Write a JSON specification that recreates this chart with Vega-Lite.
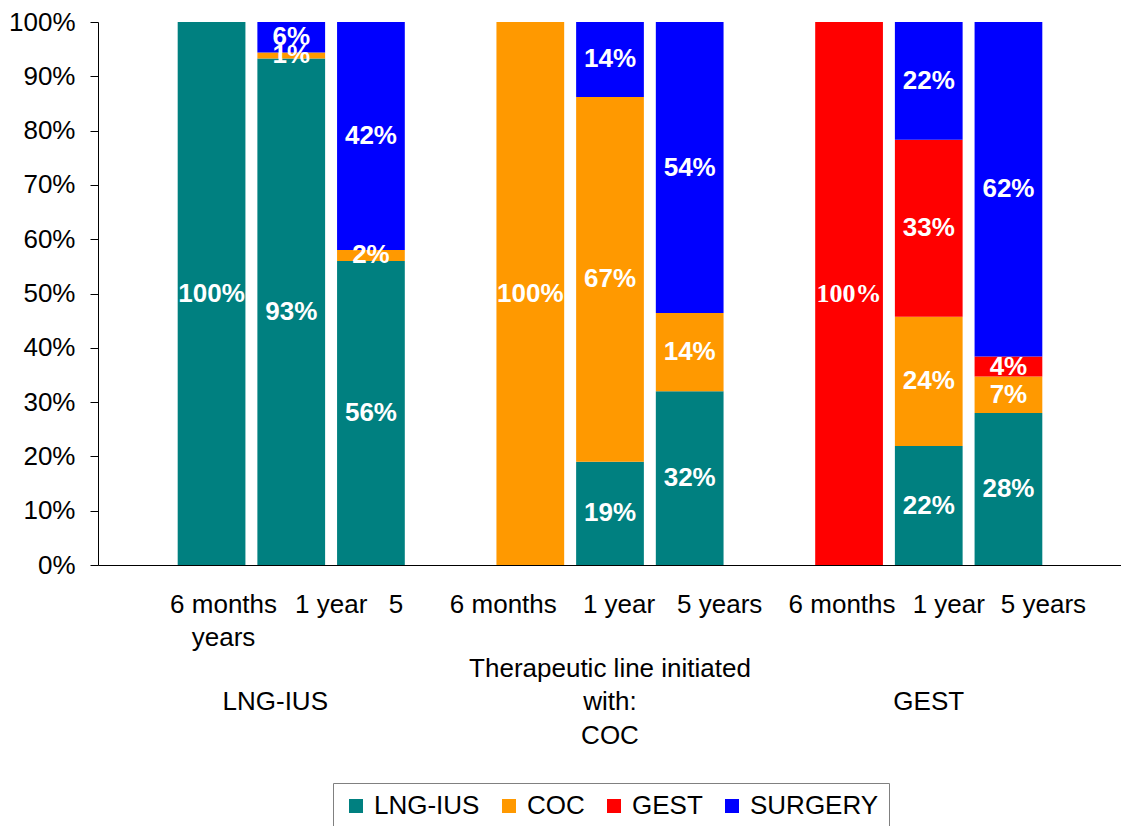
{
  "$schema": "https://vega.github.io/schema/vega-lite/v6.json",
  "width": 1024,
  "height": 543,
  "padding": {"left": 8, "top": 9, "right": 0, "bottom": 0},
  "background": "white",
  "config": {
    "font": "Liberation Sans",
    "view": {"stroke": null}
  },
  "data": {
    "values": [
      {"bar": "LNG-IUS|6 months", "group": "LNG-IUS", "period": "6 months", "method": "LNG-IUS", "ord": 1, "value": 1.0},
      {"bar": "LNG-IUS|1 year", "group": "LNG-IUS", "period": "1 year", "method": "LNG-IUS", "ord": 1, "value": 0.933},
      {"bar": "LNG-IUS|1 year", "group": "LNG-IUS", "period": "1 year", "method": "COC", "ord": 2, "value": 0.011},
      {"bar": "LNG-IUS|1 year", "group": "LNG-IUS", "period": "1 year", "method": "SURGERY", "ord": 4, "value": 0.056},
      {"bar": "LNG-IUS|5 years", "group": "LNG-IUS", "period": "5 years", "method": "LNG-IUS", "ord": 1, "value": 0.56},
      {"bar": "LNG-IUS|5 years", "group": "LNG-IUS", "period": "5 years", "method": "COC", "ord": 2, "value": 0.02},
      {"bar": "LNG-IUS|5 years", "group": "LNG-IUS", "period": "5 years", "method": "SURGERY", "ord": 4, "value": 0.42},
      {"bar": "COC|6 months", "group": "COC", "period": "6 months", "method": "COC", "ord": 2, "value": 1.0},
      {"bar": "COC|1 year", "group": "COC", "period": "1 year", "method": "LNG-IUS", "ord": 1, "value": 0.19},
      {"bar": "COC|1 year", "group": "COC", "period": "1 year", "method": "COC", "ord": 2, "value": 0.672},
      {"bar": "COC|1 year", "group": "COC", "period": "1 year", "method": "SURGERY", "ord": 4, "value": 0.138},
      {"bar": "COC|5 years", "group": "COC", "period": "5 years", "method": "LNG-IUS", "ord": 1, "value": 0.32},
      {"bar": "COC|5 years", "group": "COC", "period": "5 years", "method": "COC", "ord": 2, "value": 0.144},
      {"bar": "COC|5 years", "group": "COC", "period": "5 years", "method": "SURGERY", "ord": 4, "value": 0.536},
      {"bar": "GEST|6 months", "group": "GEST", "period": "6 months", "method": "GEST", "ord": 3, "value": 1.0},
      {"bar": "GEST|1 year", "group": "GEST", "period": "1 year", "method": "LNG-IUS", "ord": 1, "value": 0.219},
      {"bar": "GEST|1 year", "group": "GEST", "period": "1 year", "method": "COC", "ord": 2, "value": 0.238},
      {"bar": "GEST|1 year", "group": "GEST", "period": "1 year", "method": "GEST", "ord": 3, "value": 0.326},
      {"bar": "GEST|1 year", "group": "GEST", "period": "1 year", "method": "SURGERY", "ord": 4, "value": 0.217},
      {"bar": "GEST|5 years", "group": "GEST", "period": "5 years", "method": "LNG-IUS", "ord": 1, "value": 0.28},
      {"bar": "GEST|5 years", "group": "GEST", "period": "5 years", "method": "COC", "ord": 2, "value": 0.067},
      {"bar": "GEST|5 years", "group": "GEST", "period": "5 years", "method": "GEST", "ord": 3, "value": 0.037},
      {"bar": "GEST|5 years", "group": "GEST", "period": "5 years", "method": "SURGERY", "ord": 4, "value": 0.616}
    ]
  },
  "encoding": {
    "y": {
      "field": "value",
      "type": "quantitative",
      "stack": "zero",
      "scale": {"domain": [0, 1], "nice": false},
      "axis": {
        "title": null,
        "format": ".0%",
        "values": [0, 0.1, 0.2, 0.3, 0.4, 0.5, 0.6, 0.7, 0.8, 0.9, 1.0],
        "grid": false,
        "domainColor": "black",
        "tickColor": "black",
        "tickSize": 8,
        "labelFontSize": 26,
        "labelColor": "black",
        "labelPadding": 15
      }
    },
    "order": {"field": "ord", "type": "quantitative"}
  },
  "resolve": {"axis": {"x": "independent"}},
  "layer": [
    {
      "mark": {"type": "bar"},
      "encoding": {
        "x": {
          "field": "bar",
          "type": "nominal",
          "sort": null,
          "scale": {
            "domain": ["LNG-IUS|6 months", "LNG-IUS|1 year", "LNG-IUS|5 years", "gap1", "COC|6 months", "COC|1 year", "COC|5 years", "gap2", "GEST|6 months", "GEST|1 year", "GEST|5 years"],
            "paddingInner": 0.15,
            "paddingOuter": 1.05
          },
          "axis": {
            "title": null,
            "orient": "bottom",
            "labelAngle": 0,
            "ticks": false,
            "domainColor": "black",
            "domainWidth": 1,
            "labelFontSize": 26,
            "labelColor": "black",
            "labelLineHeight": 33.5,
            "labelPadding": 26,
            "labelOverlap": false,
            "labelLimit": 0,
            "labelOffset": {
              "condition": [
                {"test": "datum.value == 'LNG-IUS|6 months'", "value": 12},
                {"test": "datum.value == 'LNG-IUS|1 year'", "value": 40},
                {"test": "datum.value == 'LNG-IUS|5 years'", "value": 25},
                {"test": "datum.value == 'COC|6 months'", "value": -27},
                {"test": "datum.value == 'COC|1 year'", "value": 9},
                {"test": "datum.value == 'COC|5 years'", "value": 30},
                {"test": "datum.value == 'GEST|6 months'", "value": -7},
                {"test": "datum.value == 'GEST|1 year'", "value": 20},
                {"test": "datum.value == 'GEST|5 years'", "value": 35}
              ],
              "value": 0
            },
            "labelExpr": "datum.value == 'LNG-IUS|6 months' ? ['6 months', '      years'] : (datum.value == 'LNG-IUS|5 years' ? '5' : (indexof(datum.value, '|') < 0 ? '' : split(datum.value, '|')[1]))"
          }
        },
        "color": {
          "field": "method",
          "type": "nominal",
          "scale": {
            "domain": ["LNG-IUS", "COC", "GEST", "SURGERY"],
            "range": ["#008080", "#FF9900", "#FF0000", "#0000FF"]
          },
          "legend": {
            "title": null,
            "orient": "none",
            "legendX": 235,
            "legendY": 761,
            "direction": "horizontal",
            "labelFontSize": 26,
            "labelColor": "black",
            "labelFont": "Liberation Sans",
            "symbolType": "square",
            "symbolSize": 196,
            "symbolStrokeWidth": 0,
            "labelOffset": 5,
            "columnPadding": 16,
            "strokeColor": "#808080",
            "fillColor": "white",
            "padding": 10
          }
        }
      }
    },
    {
      "transform": [{"filter": "!(datum.method == 'GEST' && datum.value == 1)"}],
      "mark": {"type": "text", "color": "white", "fontWeight": "bold", "fontSize": 26, "font": "Liberation Sans", "baseline": "middle"},
      "encoding": {
        "x": {
          "field": "bar",
          "type": "nominal",
          "sort": null,
          "axis": {
            "title": null,
            "orient": "bottom",
            "labelAngle": 0,
            "ticks": false,
            "domain": false,
            "labelFontSize": 26,
            "labelColor": "black",
            "labelLineHeight": 33.5,
            "labelPadding": 90,
            "labelOverlap": false,
            "labelLimit": 0,
            "labelOffset": {
              "condition": [
                {"test": "datum.value == 'LNG-IUS|1 year'", "value": -16}
              ],
              "value": 0
            },
            "labelExpr": "split(datum.value, '|')[1] != '1 year' ? '' : (split(datum.value, '|')[0] == 'COC' ? ['Therapeutic line initiated', 'with:', 'COC'] : [' ', split(datum.value, '|')[0]])"
          }
        },
        "y": {"field": "value", "type": "quantitative", "stack": "zero", "bandPosition": 0.5},
        "text": {"field": "value", "type": "quantitative", "format": ".0%"}
      }
    },
    {
      "transform": [{"filter": "datum.method == 'GEST' && datum.value == 1"}],
      "mark": {"type": "text", "color": "white", "fontWeight": "bold", "fontSize": 26, "font": "Liberation Serif", "baseline": "middle"},
      "encoding": {
        "x": {"field": "bar", "type": "nominal", "sort": null, "axis": null},
        "y": {"field": "value", "type": "quantitative", "stack": "zero", "bandPosition": 0.5},
        "text": {"field": "value", "type": "quantitative", "format": ".0%"}
      }
    }
  ]
}
